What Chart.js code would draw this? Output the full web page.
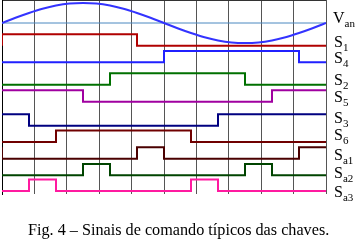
<!DOCTYPE html>
<html>
<head>
<meta charset="utf-8">
<script src="https://cdn.jsdelivr.net/npm/chart.js@4.4.1/dist/chart.umd.min.js"></script>
<style>
  html, body { margin: 0; padding: 0; background: #fff; }
  #wrap { position: relative; width: 355px; height: 241px; overflow: hidden; }
  canvas { position: absolute; left: 0; top: 0; }
  .lbl {
    position: absolute;
    font-family: "Liberation Serif", serif;
    font-size: 16px;
    line-height: 16px;
    color: #000;
    white-space: nowrap;
  }
  .lbl span { font-size: 11px; position: relative; top: 4px; }
  #caption {
    position: absolute;
    left: 28px;
    top: 222px;
    font-family: "Liberation Serif", serif;
    font-size: 16.2px;
    line-height: 16px;
    white-space: nowrap;
  }
</style>
</head>
<body>
<div id="wrap">
  <canvas id="chart" width="355" height="241"></canvas>
  <div id="caption">Fig. 4 – Sinais de comando típicos das chaves.</div>
</div>
<script>
// electrical angle (deg) across the 10 divisions
const angleMin = 0;
const angleMax = 360;
const angleStep = 36;

// phase voltage van (normalised)
const vanAngle = [0, 15, 30, 45, 60, 75, 90, 105, 120, 135, 150, 165, 180,
  195, 210, 225, 240, 255, 270, 285, 300, 315, 330, 345, 360];
const vanValue = [0, 0.26, 0.5, 0.71, 0.87, 0.97, 1, 0.97, 0.87, 0.71, 0.5, 0.26, 0,
  -0.26, -0.5, -0.71, -0.87, -0.97, -1, -0.97, -0.87, -0.71, -0.5, -0.26, 0];

// switch commands: [angle, state]
const S1 = [[0, 0], [0, 1], [150, 0], [360, 0]];
const S4 = [[0, 0], [180, 1], [330, 0], [360, 0]];
const S2 = [[0, 0], [120, 1], [270, 0], [360, 0]];
const S5 = [[0, 1], [90, 0], [300, 1], [360, 1]];
const S3 = [[0, 1], [30, 0], [240, 1], [360, 1]];
const S6 = [[0, 0], [60, 1], [210, 0], [360, 0]];
const Sa1 = [[0, 1], [0, 0], [150, 1], [180, 0], [330, 1], [360, 1]];
const Sa2 = [[0, 0], [90, 1], [120, 0], [270, 1], [300, 0], [360, 0]];
const Sa3 = [[0, 0], [30, 1], [60, 0], [210, 1], [240, 0], [360, 0]];

const signals = [S1, S4, S2, S5, S3, S6, Sa1, Sa2, Sa3];
const subs = ["1", "4", "2", "5", "3", "6", "a1", "a2", "a3"];

// layout (vertical position of each trace, in plot rows from the top)
const rowsTotal = 194;
const vanCenter = 23;
const vanAmp = 20;
const lowRow = [45.7, 62.3, 84.7, 101.7, 125.7, 142, 158.7, 175.3, 191];
const swing = 11.4;
const colors = ["#b00000", "#2020ff", "#007000", "#a000a0", "#000080",
  "#700000", "#4a0000", "#004400", "#ff1aa0"];
const labelTop = [34, 50, 72, 89, 110, 127, 147, 165, 184];

const datasets = [];
datasets.push({
  data: vanAngle.map((a, i) => ({ x: a, y: vanCenter - vanAmp * vanValue[i] })),
  borderColor: "#3333ff",
  borderWidth: 2,
  cubicInterpolationMode: "monotone",
  pointRadius: 0,
});
datasets.push({
  data: [{ x: angleMin, y: vanCenter }, { x: angleMax, y: vanCenter }],
  borderColor: "#4a88c0",
  borderWidth: 1,
  pointRadius: 0,
});
signals.forEach((sig, k) => {
  datasets.push({
    data: sig.map(([a, s]) => ({ x: a, y: lowRow[k] - swing * s })),
    borderColor: colors[k],
    borderWidth: 2,
    stepped: "before",
    pointRadius: 0,
  });
});

new Chart(document.getElementById("chart"), {
  type: "line",
  data: { datasets: datasets },
  options: {
    responsive: false,
    animation: false,
    devicePixelRatio: 1,
    layout: { padding: { left: 2, right: 29, top: 0, bottom: 47 } },
    scales: {
      x: {
        type: "linear",
        min: angleMin,
        max: angleMax,
        ticks: { display: false, stepSize: angleStep },
        grid: { color: "#555", lineWidth: 1, drawTicks: false },
        border: { display: false },
      },
      y: {
        type: "linear",
        reverse: true,
        min: 0,
        max: rowsTotal,
        ticks: { display: false, stepSize: rowsTotal },
        grid: {
          drawTicks: false,
          color: (ctx) => (ctx.tick && ctx.tick.value === 0 ? "#333" : "rgba(0,0,0,0)"),
        },
        border: { display: true, color: "#000" },
      },
    },
    plugins: { legend: { display: false }, tooltip: { enabled: false } },
  },
});

// right-hand labels
const wrap = document.getElementById("wrap");
const van = document.createElement("div");
van.className = "lbl";
van.style.left = "333px";
van.style.top = "10px";
van.innerHTML = "V<span>an</span>";
wrap.appendChild(van);
subs.forEach((s, k) => {
  const d = document.createElement("div");
  d.className = "lbl";
  d.style.left = "334px";
  d.style.top = labelTop[k] + "px";
  d.innerHTML = "S<span>" + s + "</span>";
  wrap.appendChild(d);
});
</script>
</body>
</html>
